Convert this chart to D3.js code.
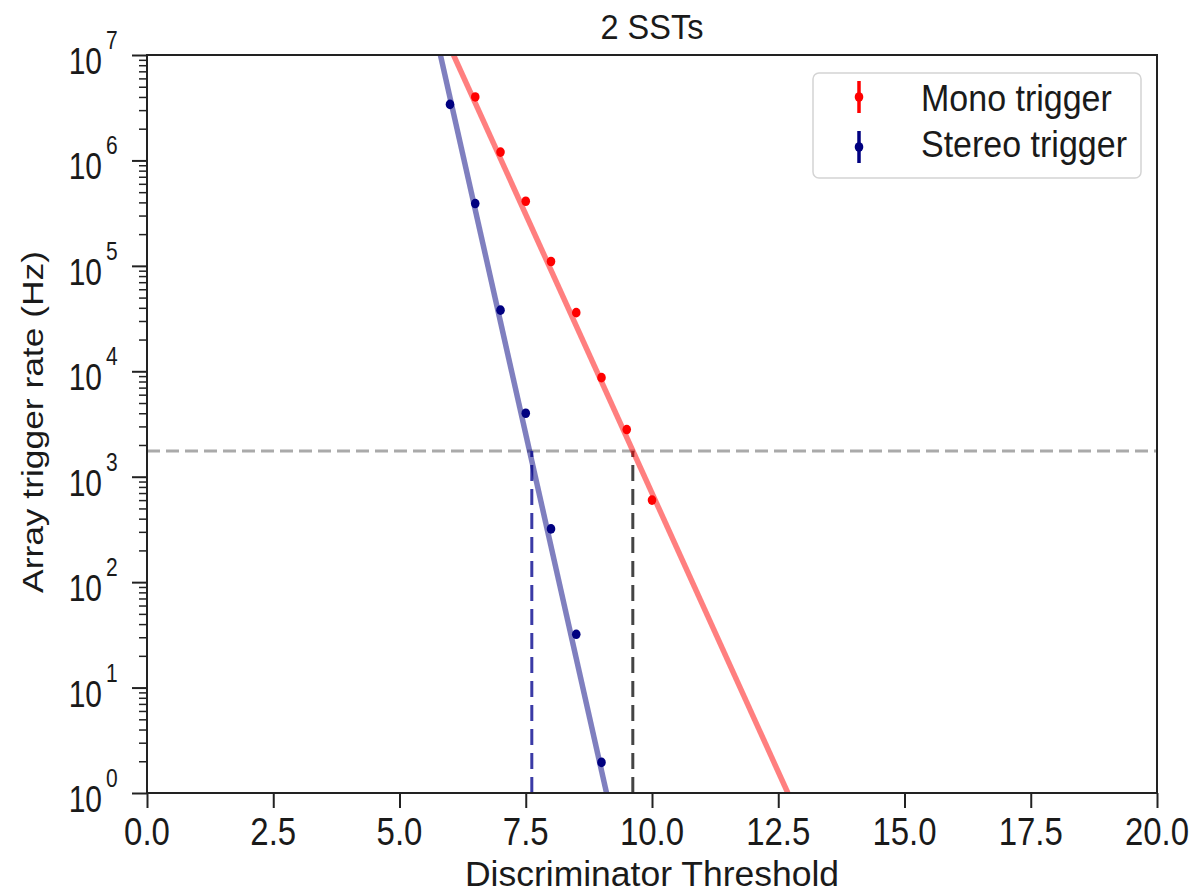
<!DOCTYPE html>
<html>
<head>
<meta charset="utf-8">
<script src="https://cdn.jsdelivr.net/npm/d3@7"></script>
<style>
  html, body { margin: 0; padding: 0; background: #fff; }
  svg { display: block; font-family: "Liberation Sans", Arial, sans-serif; }
</style>
</head>
<body>
<svg id="chart" width="1196" height="893"></svg>
<script>
// Measured trigger rates vs discriminator threshold
const monoThreshold = [6.5, 7.0, 7.5, 8.0, 8.5, 9.0, 9.5, 10.0];
const monoRate = [4.0e6, 1.2e6, 4.1e5, 1.1e5, 3.6e4, 8.7e3, 2.8e3, 6.0e2];
const stereoThreshold = [6.0, 6.5, 7.0, 7.5, 8.0, 8.5, 9.0];
const stereoRate = [3.4e6, 3.9e5, 3.8e4, 4.0e3, 3.2e2, 32, 1.95];

// Exponential fits (end points of straight lines in log space)
const monoFitX = [6.07, 12.69];
const monoFitY = [1e7, 1];
const stereoFitX = [5.81, 9.10];
const stereoFitY = [1e7, 1];

// Target rate and where each fit crosses it
const targetRate = 1.75e3;
const monoCross = 9.62;
const stereoCross = 7.62;

const xTicks = [0, 2.5, 5, 7.5, 10, 12.5, 15, 17.5, 20];
const yExponents = [0, 1, 2, 3, 4, 5, 6, 7];

const margin = { left: 147, right: 1157, top: 55, bottom: 793 };
const stretch = 1.2;   // vertical text aspect
const svg = d3.select("#chart");

const x = d3.scaleLinear().domain([0, 20]).range([margin.left, margin.right]);
const y = d3.scaleLog().domain([1, 1e7]).range([margin.bottom, margin.top]);

// Clip for plot contents
svg.append("defs").append("clipPath").attr("id", "plotClip")
  .append("rect")
  .attr("x", margin.left).attr("y", margin.top)
  .attr("width", margin.right - margin.left)
  .attr("height", margin.bottom - margin.top);

const plot = svg.append("g").attr("clip-path", "url(#plotClip)");

// Target rate line
plot.append("line")
  .attr("x1", x(0)).attr("x2", x(20))
  .attr("y1", y(targetRate)).attr("y2", y(targetRate))
  .attr("stroke", "#aaaaaa").attr("stroke-width", 3)
  .attr("stroke-dasharray", "13,6");

// Crossing markers
plot.append("line")
  .attr("x1", x(stereoCross)).attr("x2", x(stereoCross))
  .attr("y1", y(1)).attr("y2", y(targetRate))
  .attr("stroke", "#3a3aa6").attr("stroke-width", 3)
  .attr("stroke-dasharray", "16,8");
plot.append("line")
  .attr("x1", x(monoCross)).attr("x2", x(monoCross))
  .attr("y1", y(1)).attr("y2", y(targetRate))
  .attr("stroke", "#444444").attr("stroke-width", 3)
  .attr("stroke-dasharray", "16,8");

// Fit lines
const fitLine = d3.line().x(d => x(d[0])).y(d => y(d[1]));
plot.append("path")
  .datum(d3.zip(monoFitX, monoFitY))
  .attr("d", fitLine)
  .attr("fill", "none").attr("stroke", "#ff0000").attr("stroke-opacity", 0.5)
  .attr("stroke-width", 5.5);
plot.append("path")
  .datum(d3.zip(stereoFitX, stereoFitY))
  .attr("d", fitLine)
  .attr("fill", "none").attr("stroke", "#000080").attr("stroke-opacity", 0.5)
  .attr("stroke-width", 5.5);

// Data points
plot.selectAll("ellipse.mono")
  .data(d3.zip(monoThreshold, monoRate))
  .join("ellipse").attr("class", "mono")
  .attr("cx", d => x(d[0])).attr("cy", d => y(d[1]))
  .attr("rx", 4.3).attr("ry", 4.8)
  .attr("fill", "#ff0000");
plot.selectAll("ellipse.stereo")
  .data(d3.zip(stereoThreshold, stereoRate))
  .join("ellipse").attr("class", "stereo")
  .attr("cx", d => x(d[0])).attr("cy", d => y(d[1]))
  .attr("rx", 4.3).attr("ry", 4.8)
  .attr("fill", "#000080");

// Frame
svg.append("rect")
  .attr("x", margin.left).attr("y", margin.top)
  .attr("width", margin.right - margin.left)
  .attr("height", margin.bottom - margin.top)
  .attr("fill", "none").attr("stroke", "#222").attr("stroke-width", 2);

// X axis ticks
const xAxis = svg.append("g")
  .attr("transform", `translate(0,${margin.bottom})`)
  .call(d3.axisBottom(x).tickValues(xTicks).tickFormat("").tickSize(15));
xAxis.select(".domain").remove();
xAxis.selectAll(".tick line").attr("stroke", "#222").attr("stroke-width", 2);

// X tick labels
svg.append("g").selectAll("text")
  .data(xTicks)
  .join("text")
  .attr("transform", d => `translate(${x(d)},845) scale(1,${stretch})`)
  .attr("text-anchor", "middle")
  .attr("font-size", 33).attr("fill", "#1a1a1a")
  .text(d => d3.format(".1f")(d));

// Y axis: major ticks
const yAxis = svg.append("g")
  .attr("transform", `translate(${margin.left},0)`)
  .call(d3.axisLeft(y).tickValues(yExponents.map(e => Math.pow(10, e)))
    .tickFormat("").tickSize(15));
yAxis.select(".domain").remove();
yAxis.selectAll(".tick line").attr("stroke", "#222").attr("stroke-width", 2);

// Y axis: minor ticks
const minorVals = [];
yExponents.slice(0, -1).forEach(e => {
  for (let m = 2; m <= 9; m++) minorVals.push(m * Math.pow(10, e));
});
const yMinor = svg.append("g")
  .attr("transform", `translate(${margin.left},0)`)
  .call(d3.axisLeft(y).tickValues(minorVals).tickFormat("").tickSize(8));
yMinor.select(".domain").remove();
yMinor.selectAll(".tick line").attr("stroke", "#222").attr("stroke-width", 1.5);

// Y tick labels as 10^n
const yLabels = svg.append("g");
yExponents.forEach(e => {
  const ty = y(Math.pow(10, e));
  yLabels.append("text")
    .attr("transform", `translate(102,${ty + 19}) scale(1,${stretch})`)
    .attr("text-anchor", "end")
    .attr("font-size", 30).attr("fill", "#1a1a1a")
    .text("10");
  yLabels.append("text")
    .attr("transform", `translate(106,${ty - 6}) scale(1,${stretch})`)
    .attr("text-anchor", "start")
    .attr("font-size", 21).attr("fill", "#1a1a1a")
    .text(e);
});

// Axis titles
svg.append("text")
  .attr("transform", `translate(${(margin.left + margin.right) / 2},886)`)
  .attr("text-anchor", "middle").attr("font-size", 35.5).attr("fill", "#1a1a1a")
  .text("Discriminator Threshold");
svg.append("text")
  .attr("transform", `translate(43,422) scale(1,1.22) rotate(-90)`)
  .attr("text-anchor", "middle").attr("font-size", 29).attr("fill", "#1a1a1a")
  .text("Array trigger rate (Hz)");
svg.append("text")
  .attr("transform", `translate(${(margin.left + margin.right) / 2},39) scale(1,1.1)`)
  .attr("text-anchor", "middle").attr("font-size", 32.5).attr("fill", "#1a1a1a")
  .text("2 SSTs");

// Legend
const legend = svg.append("g");
legend.append("rect")
  .attr("x", 813).attr("y", 73).attr("width", 328).attr("height", 105)
  .attr("rx", 6).attr("fill", "#fff").attr("fill-opacity", 0.8)
  .attr("stroke", "#d4d4d4").attr("stroke-width", 1.5);
const legendItems = [
  { label: "Mono trigger", color: "#ff0000", cy: 97, base: 111 },
  { label: "Stereo trigger", color: "#000080", cy: 147, base: 157 }
];
legendItems.forEach(item => {
  legend.append("line")
    .attr("x1", 859).attr("x2", 859).attr("y1", item.cy - 16).attr("y2", item.cy + 16)
    .attr("stroke", item.color).attr("stroke-width", 3.5);
  legend.append("ellipse").attr("cx", 859).attr("cy", item.cy)
    .attr("rx", 4.3).attr("ry", 4.8)
    .attr("fill", item.color);
  legend.append("text")
    .attr("transform", `translate(921,${item.base}) scale(1,1.1)`)
    .attr("font-size", 34).attr("fill", "#1a1a1a")
    .text(item.label);
});
</script>
</body>
</html>
